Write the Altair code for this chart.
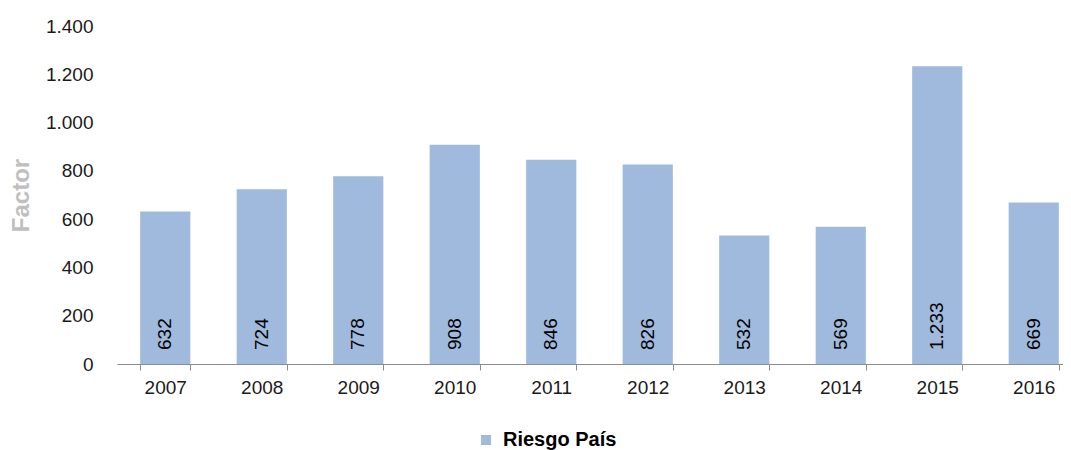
import altair as alt
import pandas as pd

years = ["2007", "2008", "2009", "2010", "2011", "2012", "2013", "2014", "2015", "2016"]
values = [632, 724, 778, 908, 846, 826, 532, 569, 1233, 669]
series_name = "Riesgo País"
y_ticks = [0, 200, 400, 600, 800, 1000, 1200, 1400]

def fmt(v):
    return f"{v:,}".replace(",", ".")

df = pd.DataFrame({
    "year": years,
    "value": values,
    "label": [fmt(v) for v in values],
    "serie": [series_name] * len(years),
})

FONT = "Liberation Sans"
PLOT_W = 946
PLOT_H = 338

base = alt.Chart(df)

bars = base.mark_bar(color="#9FBADC").encode(
    x=alt.X(
        "year:N",
        sort=years,
        scale=alt.Scale(range=[0, 965], paddingInner=0.48, paddingOuter=0.24),
        axis=alt.Axis(
            title=None,
            labelAngle=0,
            labelFont=FONT,
            labelFontSize=19,
            labelColor="#1a1a1a",
            labelPadding=8,
            domainColor="#8c8c8c",
            tickColor="#8c8c8c",
            tickSize=6,
            tickBand="extent",
            grid=False,
        ),
    ),
    y=alt.Y(
        "value:Q",
        scale=alt.Scale(domain=[0, 1400], nice=False),
        axis=alt.Axis(
            title="Factor",
            values=y_ticks,
            labelExpr="replace(format(datum.value, ','), ',', '.')",
            labelFont=FONT,
            labelFontSize=19,
            labelColor="#1a1a1a",
            labelPadding=24,
            ticks=False,
            domain=False,
            grid=False,
            titleFont=FONT,
            titleFontSize=24,
            titleFontWeight="bold",
            titleColor="#BFBFBF",
            titleAngle=270,
            titleAlign="center",
            titleBaseline="middle",
            titleX=-96,
            titleY=PLOT_H / 2,
        ),
    ),
    fill=alt.Fill(
        "serie:N",
        scale=alt.Scale(range=["#9FBADC"]),
        legend=alt.Legend(
            title=None,
            orient="none",
            legendX=359,
            legendY=404,
            symbolType="square",
            symbolSize=100,
            symbolStrokeWidth=0,
            labelFont=FONT,
            labelFontSize=20,
            labelFontWeight="bold",
            labelColor="#000000",
            labelOffset=7,
        ),
    ),
)

text = base.mark_text(
    angle=270,
    align="left",
    baseline="middle",
    font=FONT,
    fontSize=19,
    color="#000000",
).encode(
    x=alt.X("year:N", sort=years),
    y=alt.value(PLOT_H - 14),
    text="label:N",
)

chart = (bars + text).properties(
    width=PLOT_W,
    height=PLOT_H,
    autosize=alt.AutoSizeParams(type="none"),
    padding={"left": 109, "top": 18, "right": 0, "bottom": 86},
).configure_view(stroke=None)

chart.save("out.html", embed_options={"renderer": "svg", "actions": False})
